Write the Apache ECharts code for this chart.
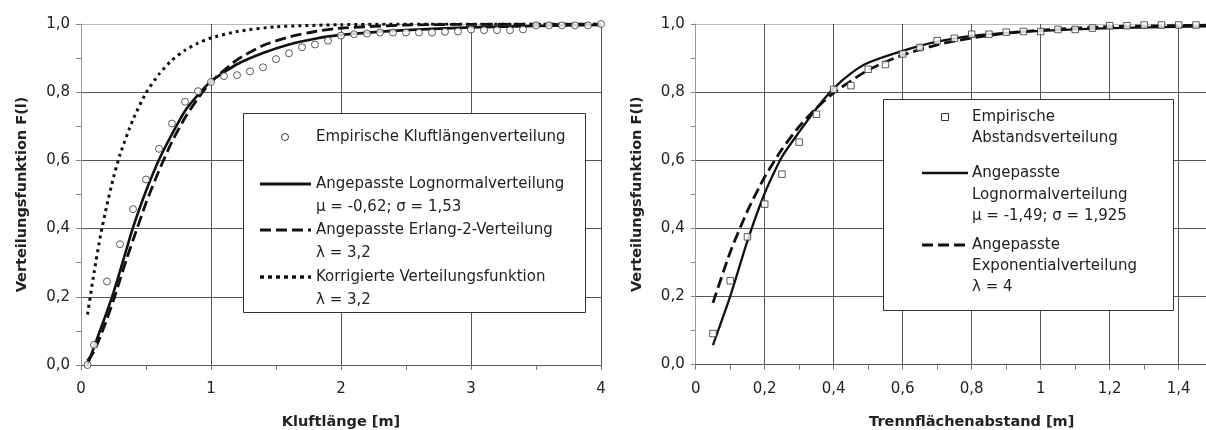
<!DOCTYPE html>
<html><head><meta charset="utf-8">
<script src="https://cdn.jsdelivr.net/npm/echarts@6/dist/echarts.min.js"></script>
<style>html,body{margin:0;padding:0;background:#fff}#c{width:1206px;height:430px}</style>
</head><body><div id="c"></div>
<script>
// ---- Left chart: Kluftlänge ----
const kluftEmpX = [0.05,0.1,0.2,0.3,0.4,0.5,0.6,0.7,0.8,0.9,1.0,1.1,1.2,1.3,1.4,1.5,1.6,1.7,1.8,1.9,2.0,2.1,2.2,2.3,2.4,2.5,2.6,2.7,2.8,2.9,3.0,3.1,3.2,3.3,3.4,3.5,3.6,3.7,3.8,3.9,4.0];
const kluftEmpY = [0.0,0.059,0.245,0.354,0.457,0.544,0.634,0.708,0.772,0.803,0.830,0.847,0.850,0.861,0.873,0.897,0.914,0.932,0.940,0.951,0.966,0.970,0.972,0.975,0.975,0.975,0.975,0.975,0.977,0.978,0.984,0.982,0.982,0.982,0.984,0.996,0.996,0.996,0.996,0.996,1.0];
const kluftLognX = [0.05,0.1,0.15,0.2,0.25,0.3,0.35,0.4,0.5,0.6,0.7,0.8,0.9,1.0,1.2,1.4,1.6,1.8,2.0,2.5,3.0,3.5,4.0];
const kluftLognY = [0.0,0.052,0.105,0.157,0.213,0.275,0.34,0.403,0.51,0.602,0.677,0.745,0.792,0.832,0.882,0.915,0.94,0.957,0.968,0.982,0.99,0.994,0.997];
const kluftErlX = [0.05,0.1,0.15,0.2,0.25,0.3,0.35,0.4,0.5,0.6,0.7,0.8,0.9,1.0,1.2,1.4,1.6,1.8,2.0,2.5,3.0,4.0];
const kluftErlY = [0.012,0.04,0.085,0.135,0.19,0.25,0.31,0.366,0.475,0.57,0.655,0.725,0.782,0.83,0.895,0.937,0.962,0.978,0.988,0.997,0.999,1.0];
const kluftKorrX = [0.05,0.1,0.15,0.2,0.25,0.3,0.4,0.5,0.6,0.7,0.8,0.9,1.0,1.2,1.5,2.0,2.5,4.0];
const kluftKorrY = [0.148,0.27,0.38,0.47,0.55,0.617,0.72,0.798,0.853,0.894,0.923,0.944,0.959,0.978,0.992,0.998,1.0,1.0];

// ---- Right chart: Trennflächenabstand ----
const abstEmpX = [0.05,0.1,0.15,0.2,0.25,0.3,0.35,0.4,0.45,0.5,0.55,0.6,0.65,0.7,0.75,0.8,0.85,0.9,0.95,1.0,1.05,1.1,1.15,1.2,1.25,1.3,1.35,1.4,1.45];
const abstEmpY = [0.091,0.246,0.375,0.471,0.559,0.653,0.735,0.808,0.819,0.867,0.881,0.912,0.931,0.951,0.958,0.970,0.970,0.976,0.978,0.978,0.984,0.984,0.988,0.995,0.995,0.997,0.997,0.997,0.997];
const abstLognX = [0.05,0.1,0.15,0.2,0.25,0.3,0.35,0.4,0.45,0.5,0.6,0.7,0.8,0.9,1.0,1.2,1.6];
const abstLognY = [0.057,0.2,0.363,0.503,0.61,0.683,0.752,0.811,0.855,0.886,0.921,0.948,0.965,0.974,0.98,0.988,0.995];
const abstExpX = [0.05,0.1,0.15,0.2,0.25,0.3,0.35,0.4,0.5,0.6,0.7,0.8,0.9,1.0,1.2,1.6];
const abstExpY = [0.181,0.33,0.451,0.551,0.632,0.699,0.753,0.798,0.865,0.909,0.939,0.959,0.973,0.982,0.992,0.998];

// tick labels
const yTicks = ['0,0','0,2','0,4','0,6','0,8','1,0'];
const yTitle = 'Verteilungsfunktion F(l)';
const xTitleLeft = 'Kluftlänge [m]';
const xTitleRight = 'Trennflächenabstand [m]';
const legendLeft = [
  ['Empirische Kluftlängenverteilung'],
  ['Angepasste Lognormalverteilung','μ = -0,62; σ = 1,53'],
  ['Angepasste Erlang-2-Verteilung','λ = 3,2'],
  ['Korrigierte Verteilungsfunktion','λ = 3,2']
];
const legendRight = [
  ['Empirische','Abstandsverteilung'],
  ['Angepasste','Lognormalverteilung','μ = -1,49; σ = 1,925'],
  ['Angepasste','Exponentialverteilung','λ = 4']
];

const zip = (xs, ys) => xs.map((x, i) => [x, ys[i]]);
const FONT = 'DejaVu Sans';
const TXT = '#222';

function fmtNum(v){ return String(+v.toFixed(2)).replace('.', ','); }

function yAxis(gi){
  return {
    type:'value', gridIndex:gi, min:0, max:1, interval:0.2,
    axisLine:{show:true, lineStyle:{color:'#999', width:1}},
    axisTick:{show:true, length:5, lineStyle:{color:'#888'}},
    minorTick:{show:true, splitNumber:2, length:5, lineStyle:{color:'#888'}},
    minorSplitLine:{show:false},
    splitLine:{show:true, lineStyle:{color:['#555','#555','#555','#555','#555','#bbb'], width:1}},
    axisLabel:{color:TXT, fontFamily:FONT, fontSize:15, margin:11, formatter:v => yTicks[Math.round(v/0.2)] || ''},
    name:yTitle, nameLocation:'middle', nameGap:51,
    nameTextStyle:{color:TXT, fontFamily:FONT, fontSize:14.5, fontWeight:'bold'}
  };
}
function xAxis(gi, max, interval, title){
  return {
    type:'value', gridIndex:gi, min:0, max:max, interval:interval,
    axisLine:{show:true, lineStyle:{color:'#555', width:1}},
    axisTick:{show:true, length:5, lineStyle:{color:'#777'}},
    minorTick:{show:true, splitNumber:2, length:5, lineStyle:{color:'#777'}},
    minorSplitLine:{show:false},
    splitLine:{show:true, lineStyle:{color:'#555', width:1}},
    axisLabel:{color:TXT, fontFamily:FONT, fontSize:15, margin:17, formatter:fmtNum, showMaxLabel: gi===0},
    name:title, nameLocation:'middle', nameGap:50,
    nameTextStyle:{color:TXT, fontFamily:FONT, fontSize:14.5, fontWeight:'bold'}
  };
}

function lineSeries(gi, data, type, width){
  return {type:'line', xAxisIndex:gi, yAxisIndex:gi, data:data, showSymbol:false, symbol:'none',
    smooth:0.2, z:2, silent:true, animation:false,
    lineStyle:{color:'#111', width:width, type:type, cap:'butt'}};
}

// legend graphics
const G = [];
function txt(x, y, s){ G.push({type:'text', z:100, style:{text:s, x:x, y:y, fill:TXT, font:'15px "DejaVu Sans"', verticalAlign:'middle', textAlign:'left'}}); }
function ln(x1, x2, y, dash, w){ G.push({type:'line', z:100, shape:{x1:x1,y1:y,x2:x2,y2:y}, style:{stroke:'#111', lineWidth:w, lineDash:dash}}); }
// left legend box
G.push({type:'rect', z:99, shape:{x:243.5, y:113.5, width:342, height:199}, style:{fill:'#fff', stroke:'#333', lineWidth:1}});
G.push({type:'circle', z:100, shape:{cx:285, cy:137, r:3.5}, style:{fill:'#fff', stroke:'#333', lineWidth:1}});
txt(316, 137, legendLeft[0][0]);
ln(260, 311, 184, null, 3);
txt(316, 184, legendLeft[1][0]); txt(316, 207, legendLeft[1][1]);
ln(260, 311, 230, [11,5], 3);
txt(316, 230, legendLeft[2][0]); txt(316, 253, legendLeft[2][1]);
ln(260, 311, 277, [4,4], 3.5);
txt(316, 277, legendLeft[3][0]); txt(316, 300, legendLeft[3][1]);
// right legend box
G.push({type:'rect', z:99, shape:{x:883.5, y:99.5, width:290, height:211}, style:{fill:'#fff', stroke:'#333', lineWidth:1}});
G.push({type:'rect', z:100, shape:{x:941.5, y:113.5, width:7, height:7}, style:{fill:'#fff', stroke:'#333', lineWidth:1}});
txt(972, 117, legendRight[0][0]); txt(972, 138, legendRight[0][1]);
ln(922, 968, 173, null, 2.5);
txt(972, 173, legendRight[1][0]); txt(972, 195, legendRight[1][1]); txt(972, 216, legendRight[1][2]);
ln(922, 968, 245, [11,5], 3);
txt(972, 245, legendRight[2][0]); txt(972, 266.5, legendRight[2][1]); txt(972, 287.5, legendRight[2][2]);

const option = {
  animation:false,
  backgroundColor:'#fff',
  grid:[
    {left:81, top:24, width:520, height:341, containLabel:false, outerBoundsMode:'none'},
    {left:695.7, top:24, width:552, height:340.5, containLabel:false, outerBoundsMode:'none'}
  ],
  xAxis:[xAxis(0, 4, 1, xTitleLeft), xAxis(1, 1.6, 0.2, xTitleRight)],
  yAxis:[yAxis(0), yAxis(1)],
  series:[
    lineSeries(0, zip(kluftKorrX, kluftKorrY), [3,4], 3),
    lineSeries(0, zip(kluftErlX, kluftErlY), [11,5], 2.8),
    lineSeries(0, zip(kluftLognX, kluftLognY), 'solid', 2.6),
    {type:'scatter', xAxisIndex:0, yAxisIndex:0, data:zip(kluftEmpX, kluftEmpY), symbol:'circle', symbolSize:7, z:5,
      itemStyle:{color:'#fff', borderColor:'#333', borderWidth:1}},
    lineSeries(1, zip(abstExpX, abstExpY), [11,5], 2.8),
    lineSeries(1, zip(abstLognX, abstLognY), 'solid', 2.3),
    {type:'scatter', xAxisIndex:1, yAxisIndex:1, data:zip(abstEmpX, abstEmpY), symbol:'rect', symbolSize:6.5, z:5,
      itemStyle:{color:'#fff', borderColor:'#333', borderWidth:1}}
  ],
  graphic:G
};
const chart = echarts.init(document.getElementById('c'), null, {renderer:'canvas'});
chart.setOption(option);
</script>
</body></html>
